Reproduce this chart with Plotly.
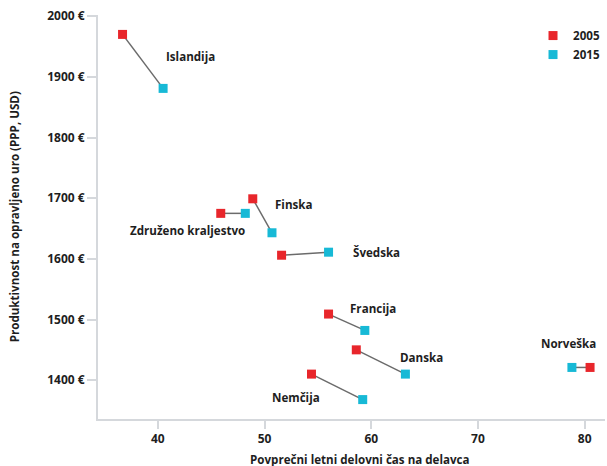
import plotly.graph_objects as go

countries = ["Islandija", "Finska", "Združeno kraljestvo", "Švedska", "Francija", "Danska", "Nemčija", "Norveška"]
hours_2005 = [36.7, 48.9, 45.9, 51.6, 56.0, 58.6, 54.4, 80.5]
prod_2005 = [1970, 1699, 1675, 1606, 1509, 1450, 1410, 1421]
hours_2015 = [40.5, 50.7, 48.2, 56.0, 59.4, 63.2, 59.2, 78.8]
prod_2015 = [1881, 1643, 1675, 1611, 1482, 1410, 1368, 1421]

x_ticks = [40, 50, 60, 70, 80]
y_ticks = [1400, 1500, 1600, 1700, 1800, 1900, 2000]
y_ticktext = [f"{v} €" for v in y_ticks]

# label placement (pixel offsets from the 2005 point)
label_style = {
    "Islandija": ("left", 41, -22),
    "Finska": ("left", 20, -6),
    "Združeno kraljestvo": ("right", 26, -17),
    "Švedska": ("left", 69, 3),
    "Francija": ("left", 19, 6),
    "Danska": ("left", 42, -8),
    "Nemčija": ("left", -41, -23),
    "Norveška": ("right", 8, 24),
}

RED = "#e8262b"
CYAN = "#17b9d6"
FONT = "Open Sans"
TXT = "#1e1e1e"
AX = "#d5d8dc"
LBL = dict(family=FONT, size=11.6, color=TXT, weight="bold")
TICK = dict(family=FONT, size=12, color=TXT, weight="bold")

fig = go.Figure()
for i, c in enumerate(countries):
    fig.add_trace(go.Scatter(
        x=[hours_2005[i], hours_2015[i]], y=[prod_2005[i], prod_2015[i]],
        mode="lines", line=dict(color="#6b6b6b", width=1.5),
        showlegend=False, hoverinfo="skip"))

fig.add_trace(go.Scatter(x=hours_2005, y=prod_2005, mode="markers", name="2005",
                         marker=dict(symbol="square", size=9, color=RED)))
fig.add_trace(go.Scatter(x=hours_2015, y=prod_2015, mode="markers", name="2015",
                         marker=dict(symbol="square", size=9, color=CYAN)))

for i, c in enumerate(countries):
    anchor, dx, dy = label_style[c]
    fig.add_annotation(x=hours_2005[i], y=prod_2005[i], text=c, showarrow=False,
                       xanchor=anchor, yanchor="middle", xshift=dx, yshift=dy,
                       font=LBL)

fig.add_annotation(xref="paper", yref="paper", x=0.517, y=-0.101, yanchor="middle",
                   text="Povprečni letni delovni čas na delavca", showarrow=False,
                   font=LBL)
fig.add_annotation(xref="paper", yref="paper", x=-0.165, y=0.5, xanchor="center",
                   yanchor="middle", textangle=-90,
                   text="Produktivnost na opravljeno uro (PPP, USD)", showarrow=False,
                   font=LBL)

fig.update_layout(
    width=607, height=466,
    margin=dict(l=98, r=2, t=15, b=47, autoexpand=False),
    plot_bgcolor="white", paper_bgcolor="white",
    font=dict(family=FONT, size=11, color=TXT),
    legend=dict(x=0.858, y=0.985, xanchor="left", yanchor="top",
                font=LBL, itemwidth=30, tracegroupgap=2, bgcolor="rgba(0,0,0,0)"),
    xaxis=dict(range=[34.4, 81.9], tickvals=x_ticks, showgrid=False, zeroline=False,
               showline=True, linecolor=AX, linewidth=2, ticks="outside",
               tickcolor=AX, ticklen=8, tickwidth=2, automargin=False,
               tickfont=TICK),
    yaxis=dict(range=[1336, 2002], tickvals=y_ticks, ticktext=y_ticktext, showgrid=False,
               zeroline=False, showline=True, linecolor=AX, linewidth=2, ticks="outside",
               tickcolor=AX, ticklen=9, tickwidth=2, automargin=False,
               tickfont=TICK),
)

fig.write_html("out.html", config={"displayModeBar": False},
               post_script="document.body.style.margin='0';document.body.style.overflow='hidden';")
